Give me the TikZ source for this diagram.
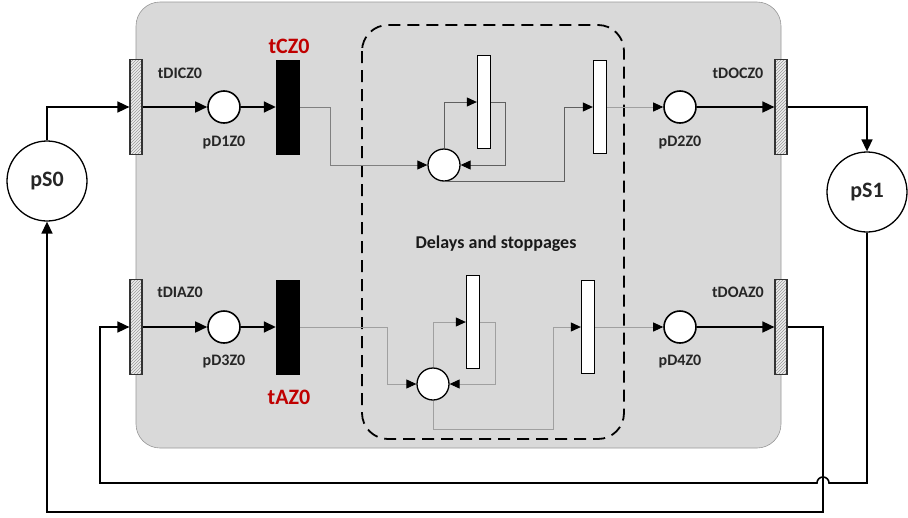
\documentclass[tikz,border=0pt]{standalone}
\usepackage{fontspec}
\setmainfont{Carlito}
\usetikzlibrary{arrows.meta,patterns,calc}
\definecolor{boxgray}{HTML}{D9D9D9}
\definecolor{redlbl}{HTML}{C00000}
\definecolor{darkln}{HTML}{606060}
\definecolor{lightln}{HTML}{A0A0A0}
\begin{document}
\begin{tikzpicture}[x=1pt,y=-1pt,
  place/.style={circle,draw=black,line width=1.6pt,fill=white,minimum size=32pt,inner sep=0pt},
  bigplace/.style={circle,draw=black,line width=1.3pt,fill=white,minimum size=80pt,inner sep=0pt,font=\bfseries\fontsize{22}{24}\selectfont,text=black!85},
  hbar/.style={rectangle,draw=black!80,line width=1.2pt,preaction={fill=gray!15},pattern=north east lines,pattern color=gray!80,minimum width=12pt,minimum height=95pt,inner sep=0pt},
  bbar/.style={rectangle,fill=black,minimum width=24pt,minimum height=95pt,inner sep=0pt},
  wbar/.style={rectangle,draw=black,line width=1.3pt,fill=white,minimum width=13pt,minimum height=93pt,inner sep=0pt},
  lbl/.style={font=\bfseries\fontsize{16}{18}\selectfont,text=black!85,inner sep=0pt},
  dlbl/.style={font=\bfseries\fontsize{18}{20}\selectfont,text=black!90,inner sep=0pt},
  rlbl/.style={font=\bfseries\fontsize{22}{24}\selectfont,text=redlbl,inner sep=0pt},
  arc/.style={line width=1.6pt,-{Triangle[length=12pt,width=11pt,color=black]}},
  inarc/.style={line width=0.9pt,-{Triangle[length=10pt,width=9pt,color=black]}},
]
\useasboundingbox (0,0) rectangle (908,517);
\fill[white] (0,0) rectangle (908,517);
% gray container
\draw[boxgray!70!black,fill=boxgray,line width=0.6pt,rounded corners=24pt] (136,2) rectangle (781,448);
% dashed region
\draw[black,line width=1.8pt,dash pattern=on 12pt off 7pt,rounded corners=26pt] (362,25) rectangle (624,439);
\node[dlbl] (delays) at (496,244) {Delays and stoppages};

% big places
\node[bigplace] (pS0) at (47,181) {pS0};
\node[bigplace] (pS1) at (867,192) {pS1};

% upper row
\node[hbar] (tDICZ0) at (136,107) {};
\node[lbl] (ltDICZ0) at (180,73) {tDICZ0};
\node[place] (pD1Z0) at (224,107) {};
\node[lbl] (lpD1Z0) at (224,143) {pD1Z0};
\node[bbar] (tCZ0) at (288,107) {};
\node[rlbl] (ltCZ0) at (289,46) {tCZ0};
\node[place,line width=1.3pt] (c1) at (444,165) {};
\node[wbar] (t1) at (484,102) {};
\node[wbar] (t2) at (600,107) {};
\node[place] (pD2Z0) at (680,107) {};
\node[lbl] (lpD2Z0) at (680,143) {pD2Z0};
\node[hbar] (tDOCZ0) at (781,107) {};
\node[lbl] (ltDOCZ0) at (738,73) {tDOCZ0};

% lower row
\node[hbar] (tDIAZ0) at (136,327) {};
\node[lbl] (ltDIAZ0) at (180,292) {tDIAZ0};
\node[place] (pD3Z0) at (224,327) {};
\node[lbl] (lpD3Z0) at (224,362) {pD3Z0};
\node[bbar] (tAZ0) at (288,327) {};
\node[rlbl] (ltAZ0) at (289,397) {tAZ0};
\node[place,line width=1.3pt] (c2) at (433,384) {};
\node[wbar] (t3) at (473,322) {};
\node[wbar] (t4) at (588,327) {};
\node[place] (pD4Z0) at (680,327) {};
\node[lbl] (lpD4Z0) at (680,362) {pD4Z0};
\node[hbar] (tDOAZ0) at (781,327) {};
\node[lbl] (ltDOAZ0) at (738,292) {tDOAZ0};

% upper connectors
\draw[arc] (pS0.north) |- (tDICZ0.west);
\draw[arc] (tDICZ0.east) -- (pD1Z0.west);
\draw[arc] (pD1Z0.east) -- (tCZ0.west);
\draw[inarc,draw=gray] (tCZ0.east) -- ++(30,0) |- (c1.west);
\draw[inarc,draw=darkln] (c1.north) |- (t1.west);
\draw[inarc,draw=darkln] (t1.east) -- ++(14,0) |- (c1.east);
\draw[inarc,draw=darkln] (c1.south) -- ++(120,0) |- (t2.west);
\draw[inarc,draw=lightln] (t2.east) -- (pD2Z0.west);
\draw[arc] (pD2Z0.east) -- (tDOCZ0.west);
\draw[arc] (tDOCZ0.east) -| (pS1.north);

% lower connectors
\draw[arc] (pD3Z0.east) -- (tAZ0.west);
\draw[arc] (tDIAZ0.east) -- (pD3Z0.west);
\draw[inarc,draw=lightln] (tAZ0.east) -- ++(87,0) |- (c2.west);
\draw[inarc,draw=lightln] (c2.north) |- (t3.west);
\draw[inarc,draw=lightln] (t3.east) -- ++(15,0) |- (c2.east);
\draw[inarc,draw=lightln] (c2.south) -- ++(0,29) -- ++(120,0) |- (t4.west);
\draw[inarc,draw=lightln] (t4.east) -- (pD4Z0.west);
\draw[arc] (pD4Z0.east) -- (tDOAZ0.west);

% outer feedback loops
\coordinate (hopR) at (829,483);
\coordinate (leftIn) at (100,483);
\draw[arc] (pS1.south) |- (hopR) arc (0:-180:6) -- (leftIn) |- (tDIAZ0.west);
\coordinate (lowR) at (823,512);
\draw[arc] (tDOAZ0.east) -| (lowR) -| (pS0.south);
\end{tikzpicture}
\end{document}
